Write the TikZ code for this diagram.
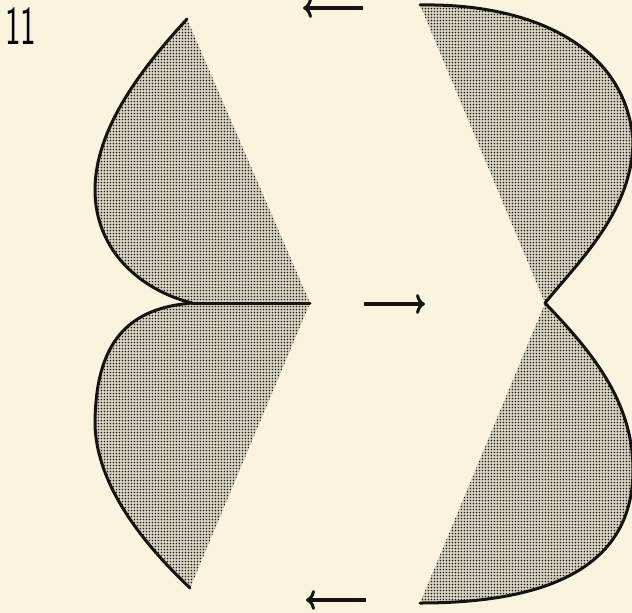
\documentclass[tikz,border=0pt]{standalone}
\usetikzlibrary{patterns.meta,arrows.meta}
\definecolor{paper}{HTML}{FAF4DF}
\definecolor{ink}{HTML}{141414}
\tikzdeclarepattern{name=stip, type=uncolored, bounding box={(0pt,0pt) and (3.4pt,3.4pt)}, tile size={(3.4pt,3.4pt)}, code={\pgfpathcircle{\pgfpoint{1.7pt}{1.7pt}}{0.95pt}\pgfusepath{fill}}}
\tikzset{
  lobe/.style={pattern=stip, pattern color=ink},
  tone/.style={fill=paper!86!black},
  rim/.style={draw=ink, line width=3pt, line cap=round, line join=round},
  flow/.style={draw=ink, line width=3.2pt, -{To[length=9pt,width=20pt,line width=3pt]}},
}
\begin{document}
\begin{tikzpicture}[x=1pt,y=-1pt]
\fill[paper] (0,0) rectangle (632,613);
\useasboundingbox (0,0) rectangle (632,613);
% label
\node[anchor=north west, inner sep=0pt, xscale=0.6, font=\sffamily\fontsize{55}{55}\selectfont] (lbl) at (5,7) {11};
% key points
\coordinate (LT) at (187,19);
\coordinate (LC) at (310,303);
\coordinate (LB) at (190,588);
\coordinate (LM) at (192,303);
\coordinate (RT) at (420,5);
\coordinate (RC) at (545,303);
\coordinate (RB) at (420,603);
% lobes
\foreach \st in {tone,lobe}{
\fill[\st] (LT) .. controls (140,70) and (95,130) .. (95,190) .. controls (95,250) and (140,290) .. (LM) -- (LC) -- cycle;
\fill[\st] (LM) .. controls (130,308) and (95,340) .. (95,425) .. controls (97,490) and (150,550) .. (LB) -- (LC) -- cycle;
\fill[\st] (RT) .. controls (530,3) and (625,45) .. (633,140) .. controls (633,210) and (580,260) .. (RC) -- cycle;
\fill[\st] (RC) .. controls (590,350) and (633,400) .. (633,470) .. controls (633,560) and (560,603) .. (RB) -- cycle;
}
\draw[rim] (LT) .. controls (140,70) and (95,130) .. (95,190) .. controls (95,250) and (140,290) .. (LM);
\draw[rim] (LM) .. controls (130,308) and (95,340) .. (95,425) .. controls (97,490) and (150,550) .. (LB);
\draw[rim] (LM) -- (LC);
\draw[rim] (RT) .. controls (530,3) and (625,45) .. (633,140) .. controls (633,210) and (580,260) .. (RC);
\draw[rim] (RC) .. controls (590,350) and (633,400) .. (633,470) .. controls (633,560) and (560,603) .. (RB);
% arrows
\coordinate (a1s) at (363,8);   \coordinate (a1e) at (303,8);
\coordinate (a2s) at (364,304); \coordinate (a2e) at (425,304);
\coordinate (a3s) at (366,600); \coordinate (a3e) at (306,600);
\draw[flow] (a1s) -- (a1e);
\draw[flow] (a2s) -- (a2e);
\draw[flow] (a3s) -- (a3e);
\end{tikzpicture}
\end{document}
